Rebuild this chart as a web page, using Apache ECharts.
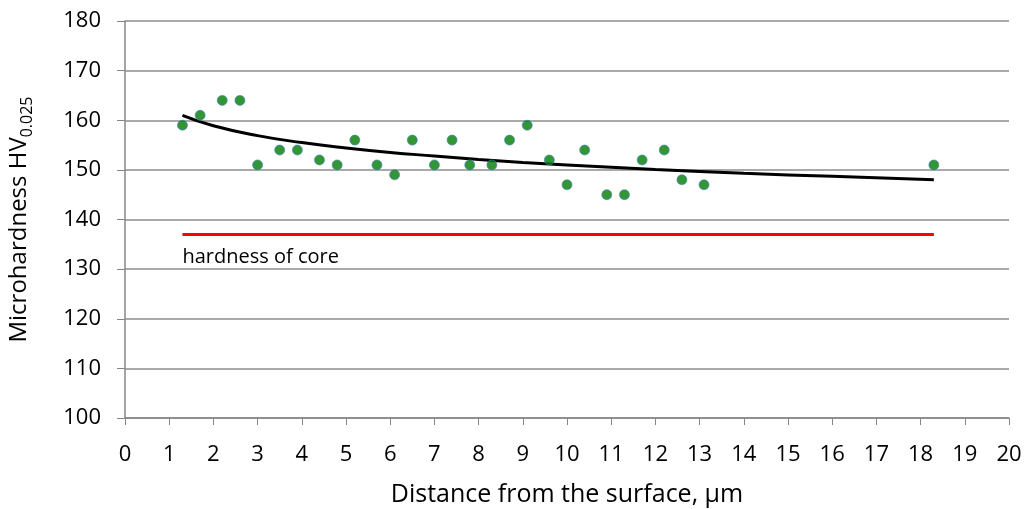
<!DOCTYPE html>
<html lang="en" style="height: 100%;width: 100%">
<head>
    <meta charset="UTF-8">
    <title>Microhardness</title>
    <script src="https://cdn.jsdelivr.net/npm/echarts@6/dist/echarts.min.js"></script>
</head>
<body style="height: 100%; margin: 0; background: #fff">
<div id="container" style="width: 1026px; height: 509px"></div>
<script type="text/javascript">
    // measured points (distance, um / HV0.025)
    var distance = [1.3, 1.7, 2.2, 2.6, 3.0, 3.5, 3.9, 4.4, 4.8, 5.2, 5.7, 6.1, 6.5, 7.0, 7.4,
        7.8, 8.3, 8.7, 9.1, 9.6, 10.0, 10.4, 10.9, 11.3, 11.7, 12.2, 12.6, 13.1, 18.3];
    var hardness = [159, 161, 164, 164, 151, 154, 154, 152, 151, 156, 151, 149, 156, 151, 156,
        151, 151, 156, 159, 152, 147, 154, 145, 145, 152, 154, 148, 147, 151];

    // trend curve
    var trendX = [1.3, 2, 3, 4, 5, 6, 7, 8, 9, 10, 12, 14, 16, 18.3];
    var trendY = [161.0, 158.9, 156.9, 155.5, 154.4, 153.5, 152.8, 152.1, 151.5, 151.0, 150.1, 149.3, 148.7, 148.0];

    // core hardness line
    var coreX = [1.3, 18.3];
    var coreY = [137, 137];

    var font = '"Open Sans", sans-serif';

    function pairs(xs, ys) {
        var out = [];
        for (var i = 0; i < xs.length; i++) out.push([xs[i], ys[i]]);
        return out;
    }

    var coreData = pairs(coreX, coreY);
    coreData[0] = {
        value: coreData[0],
        label: {
            show: true, position: 'bottom', distance: 13, align: 'left',
            formatter: 'hardness of core', color: '#000', fontSize: 20, fontFamily: font
        }
    };

    var chart = echarts.init(document.getElementById('container'));
    var option = {
        animation: false,
        grid: { left: 125, right: 17, top: 21, bottom: 91, containLabel: false, outerBoundsMode: 'none' },
        xAxis: {
            type: 'value', min: 0, max: 20, interval: 1,
            name: 'Distance from the surface, μm',
            nameLocation: 'middle', nameGap: 64,
            nameTextStyle: { fontSize: 25, color: '#000', fontFamily: font },
            axisLine: { show: true, onZero: false, lineStyle: { color: '#868686', width: 1.5 } },
            axisTick: { show: true, inside: false, length: 7, lineStyle: { color: '#868686' } },
            axisLabel: { margin: 26, fontSize: 22, color: '#000', fontFamily: font },
            splitLine: { show: false }
        },
        yAxis: {
            type: 'value', min: 100, max: 180, interval: 10,
            name: '{a|Microhardness HV}{b|0.025}',
            nameLocation: 'middle', nameRotate: 90, nameGap: 90,
            nameTextStyle: {
                color: '#000', fontFamily: font,
                rich: {
                    a: { fontSize: 24, lineHeight: 32, color: '#000', fontFamily: font },
                    b: { fontSize: 16, lineHeight: 18, verticalAlign: 'bottom', color: '#000', fontFamily: font }
                }
            },
            axisLine: { show: true, lineStyle: { color: '#868686', width: 1.5 } },
            axisTick: { show: true, inside: false, length: 8, lineStyle: { color: '#868686' } },
            axisLabel: { margin: 24, fontSize: 22, color: '#000', fontFamily: font },
            splitLine: { show: true, lineStyle: { color: '#8c8c8c', width: 1.5 } }
        },
        series: [
            {
                type: 'line',
                data: coreData,
                showSymbol: true,
                symbol: 'circle',
                symbolSize: 0.1,
                itemStyle: { color: '#ff0000' },
                lineStyle: { color: '#ff0000', width: 3 },
                z: 2
            },
            {
                type: 'line',
                data: pairs(trendX, trendY),
                smooth: true,
                symbol: 'none',
                lineStyle: { color: '#000', width: 3 },
                z: 3
            },
            {
                type: 'scatter',
                data: pairs(distance, hardness),
                symbolSize: 10,
                itemStyle: { color: '#007a00', borderColor: '#3f86c4', borderWidth: 0.8 },
                z: 4
            }
        ]
    };
    chart.setOption(option);
</script>
</body>
</html>
